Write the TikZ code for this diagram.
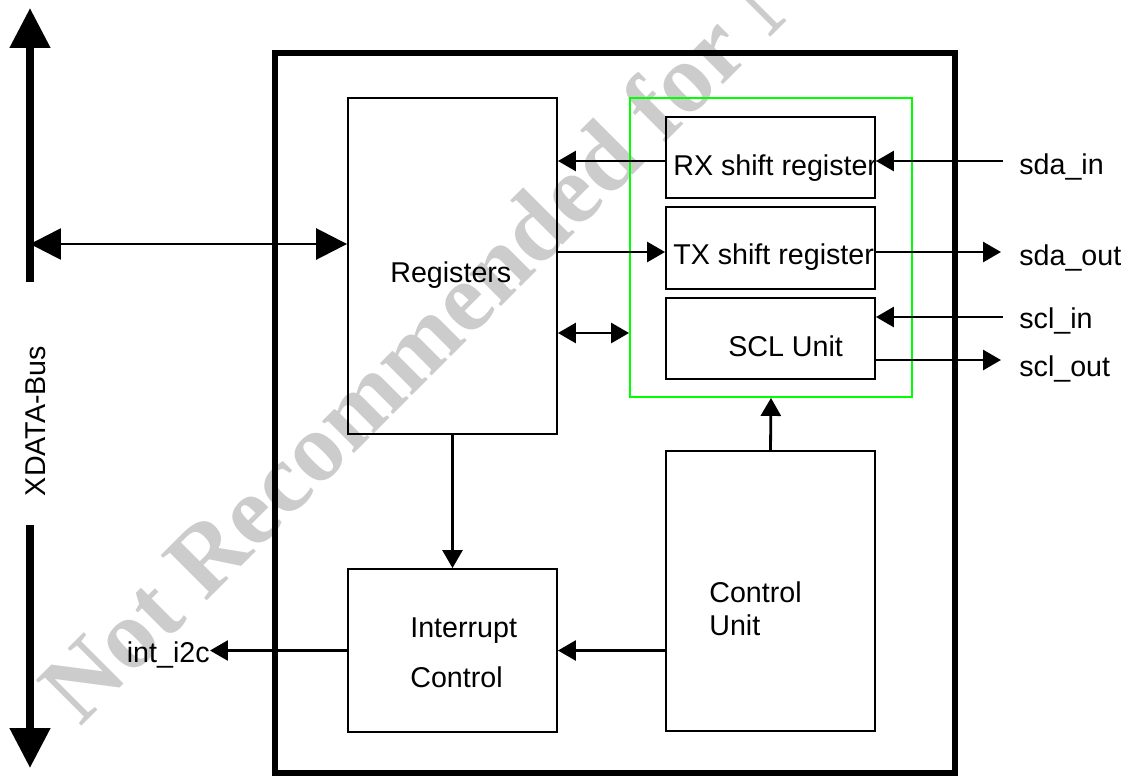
\documentclass[tikz,border=0pt]{standalone}
\usepackage{fontspec}
\setmainfont{Liberation Sans}
\newfontfamily\wmfont{Liberation Serif}
\usetikzlibrary{arrows.meta,positioning}
\definecolor{grpgreen}{RGB}{0,255,0}
\definecolor{wmgray}{RGB}{204,204,204}

\begin{document}
\begin{tikzpicture}[x=0.02cm, y=-0.02cm,
  every node/.style={font=\fontsize{16.3}{19}\selectfont, inner sep=0pt},
  blk/.style={draw, line width=1.1pt},
  sig/.style={line width=1.6pt, -{Triangle[length=0.36cm,width=0.4cm]}},
  bisig/.style={line width=1.6pt, {Triangle[length=0.36cm,width=0.4cm]}-{Triangle[length=0.36cm,width=0.4cm]}},
  busarrow/.style={line width=1.6pt, {Triangle[length=0.62cm,width=0.62cm]}-{Triangle[length=0.62cm,width=0.62cm]}},
  bus/.style={line width=4.5pt, -{Triangle[length=0.8cm,width=0.78cm]}}]
\useasboundingbox (0,0) rectangle (1129,775);
% ---- watermark
\begin{scope}
  \clip (0,0) rectangle (1129,775);
  \node[wmgray, anchor=base west, rotate=45, font=\wmfont\bfseries\fontsize{56}{56}\selectfont]
    (wm) at (79.8,728.2) {Not Recommended for New Designs};
\end{scope}
% ---- XDATA bus
\coordinate (busTop) at (30,8);
\coordinate (busUp) at (30,282);
\coordinate (busDn) at (30,525);
\coordinate (busBot) at (30,768);
\coordinate (busTap) at (30,244);
\draw[bus] (busUp) -- (busTop);
\draw[bus] (busDn) -- (busBot);
\node[rotate=90] (busname) at (36,421) {XDATA-Bus};
% ---- blocks
\node[blk, line width=3.4pt, minimum width=13.6cm, minimum height=14.4cm] (chip) at (615,413) {};
\node[blk, minimum width=4.18cm, minimum height=6.72cm] (regs) at (452.5,266) {};
\node[blk, draw=grpgreen, minimum width=5.64cm, minimum height=5.98cm] (grp) at (771,247.5) {};
\node[blk, minimum width=4.18cm, minimum height=1.62cm] (rx) at (770.5,157.5) {};
\node[blk, minimum width=4.18cm, minimum height=1.64cm] (tx) at (770.5,248) {};
\node[blk, minimum width=4.18cm, minimum height=1.62cm] (scl) at (770.5,338.5) {};
\node[blk, minimum width=4.18cm, minimum height=5.6cm] (ctrl) at (770.5,591) {};
\node[blk, minimum width=4.18cm, minimum height=3.26cm] (intc) at (452.5,650.5) {};
% ---- block texts
\node[anchor=west] (regsL) at (390,275) {Registers};
\node[anchor=west] (rxL) at (673,168) {RX shift register};
\node[anchor=west] (txL) at (673,257) {TX shift register};
\node[anchor=west] (sclL) at (728,346) {SCL Unit};
\node[anchor=west, align=left, font=\fontsize{16.3}{18.7}\selectfont] (ctrlL) at (709,608.5) {Control\\Unit};
\node[anchor=west, align=left, font=\fontsize{16.3}{28.4}\selectfont] (intcL) at (410,653) {Interrupt\\Control};
% ---- pins
\coordinate (sdainEnd) at (1003,161);
\coordinate (sdaoutEnd) at (1001,252);
\coordinate (sclinEnd) at (1003,317);
\coordinate (scloutEnd) at (1001,360);
\coordinate (linkY) at (600,333);
\node[anchor=west] (sdain) at (1019,167) {sda\_in};
\node[anchor=west] (sdaout) at (1019,258) {sda\_out};
\node[anchor=west] (sclin) at (1019,321) {scl\_in};
\node[anchor=west] (sclout) at (1019,369) {scl\_out};
\node[anchor=east] (i2c) at (210,655) {int\_i2c};
% ---- connections
\draw[busarrow] (busTap) -- (busTap -| regs.west);
\draw[sig] (sdainEnd) -- (sdainEnd -| rx.east);
\draw[sig] (rx.west |- sdainEnd) -- (regs.east |- sdainEnd);
\draw[sig] (regs.east |- sdaoutEnd) -- (tx.west |- sdaoutEnd);
\draw[sig] (tx.east |- sdaoutEnd) -- (sdaoutEnd);
\draw[sig] (sclinEnd) -- (sclinEnd -| scl.east);
\draw[sig] (scl.east |- scloutEnd) -- (scloutEnd);
\draw[bisig] (regs.east |- linkY) -- (grp.west |- linkY);
\draw[sig] (ctrl.north) -- (grp.south);
\draw[sig] (regs.south) -- (intc.north);
\draw[sig] (ctrl.west |- intc.east) -- (intc.east);
\draw[sig] (intc.west) -- (intc.west -| i2c.east);
\end{tikzpicture}
\end{document}
